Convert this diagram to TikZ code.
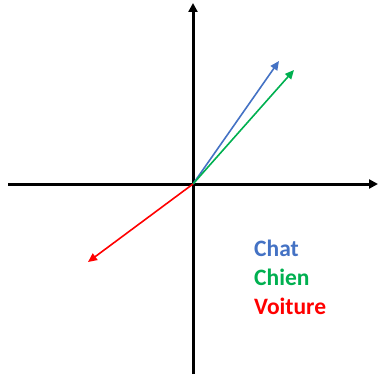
\documentclass[tikz,border=0pt]{standalone}
\usepackage{fontspec}
\setmainfont{Carlito}
\usetikzlibrary{arrows.meta}
\definecolor{VecChat}{HTML}{4472C4}
\definecolor{VecChien}{HTML}{00B050}
\definecolor{VecVoiture}{HTML}{FF0000}
\begin{document}
\begin{tikzpicture}[x=1pt,y=1pt,
    axis/.style={line width=3pt,-{Triangle[length=9pt,width=9pt]}},
    vec/.style={line width=1.6pt,-{Triangle[length=9pt,width=8pt]}},
    word/.style={anchor=base west,inner sep=0pt,font=\fontsize{23.5}{28}\selectfont\bfseries}]
    \useasboundingbox (0,0) rectangle (378,376);
    \coordinate (O) at (193,192);
    \coordinate (xmin) at (8,192);
    \coordinate (xmax) at (378,192);
    \coordinate (ymin) at (193,2);
    \coordinate (ymax) at (193,373);
    \draw[axis] (xmin) -- (xmax);
    \draw[axis] (ymin) -- (ymax);
    \coordinate (chat) at (279,315);
    \coordinate (chien) at (294,306);
    \coordinate (voiture) at (88,114);
    \draw[vec,VecChat] (O) -- (chat);
    \draw[vec,VecChien] (O) -- (chien);
    \draw[vec,VecVoiture] (O) -- (voiture);
    \node[word,text=VecChat] (lchat) at (254,120) {Chat};
    \node[word,text=VecChien] (lchien) at (254,91) {Chien};
    \node[word,text=VecVoiture] (lvoiture) at (254,62) {Voiture};
\end{tikzpicture}
\end{document}
